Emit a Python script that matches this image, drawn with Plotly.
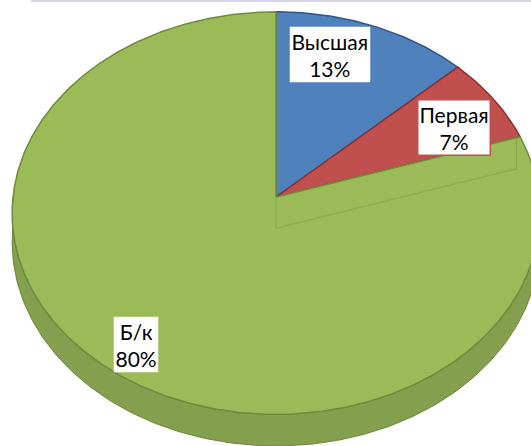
import numpy as np
import plotly.graph_objects as go

# ---- data ----
categories = ["Высшая", "Первая", "Б/к"]
values = [13, 7, 80]

# ---- styling / layout config ----
face_colors = ["#4F81BD", "#C0504D", "#9BBB59"]
edge_colors = ["#2F5584", "#8E2E2C", "#6F8B3B"]
side_color = "#849F4E"
label_pos = [(330, 54), (454, 127), (136, 344)]   # pixel centres of label boxes
label_border = ["rgba(0,0,0,0)", "#C0504D", "rgba(0,0,0,0)"]

W, H = 531, 446
cx, cy = 276, 197
rx, ry, k = 263, 200, 0.08
depth = 29


def proj(theta_deg, r=1.0, dz=0.0):
    t = np.radians(theta_deg)
    v = np.cos(t)
    u = np.sin(t)
    f = 1.0 / (1.0 + k * v)
    x = cx + rx * u * r * f
    y = cy - ry * v * r * f + dz * f
    return x, y


total = sum(values)
starts = np.cumsum([0] + values[:-1]) / total * 360.0
ends = np.cumsum(values) / total * 360.0

fig = go.Figure()

# side wall (front half, visible part of each slice)
for i in range(len(values)):
    a0, a1 = max(starts[i], 90.0), min(ends[i], 270.0)
    if a1 <= a0:
        continue
    th = np.linspace(a0, a1, 200)
    xt, yt = proj(th)
    xb, yb = proj(th[::-1], 1.0, depth)
    fig.add_trace(go.Scatter(
        x=np.concatenate([xt, xb, xt[:1]]), y=np.concatenate([yt, yb, yt[:1]]),
        mode="lines", fill="toself", fillcolor=side_color,
        line=dict(color="#6C8838", width=1), hoverinfo="skip", showlegend=False))

# top faces
for i in range(len(values)):
    th = np.linspace(starts[i], ends[i], max(int(values[i] * 6), 20))
    xs, ys = proj(th)
    x = np.concatenate([[cx], xs, [cx]])
    y = np.concatenate([[cy], ys, [cy]])
    fig.add_trace(go.Scatter(
        x=x, y=y, mode="lines", fill="toself", fillcolor=face_colors[i],
        line=dict(color=edge_colors[i], width=1.5), hoverinfo="skip",
        showlegend=False))

# faint inner cut wall of the large slice (seen through the top)
a = starts[2]
p0 = proj(a, 0.0)
p1 = proj(a, 0.0, depth + 3)
p2 = proj(a, 0.985, depth + 3)
p3 = proj(a, 0.985)
fig.add_trace(go.Scatter(
    x=[p0[0], p1[0], p2[0], p3[0]], y=[p0[1], p1[1], p2[1], p3[1]],
    mode="lines", line=dict(color="rgba(110,140,60,0.35)", width=1.2),
    hoverinfo="skip", showlegend=False))

# labels
for i, c in enumerate(categories):
    pct = round(values[i] / total * 100)
    fig.add_annotation(
        x=label_pos[i][0], y=label_pos[i][1], xref="x", yref="y",
        text=f"{c}<br>{pct}%", showarrow=False,
        font=dict(family="Lato, Liberation Sans, Arial", size=21, color="#000000"),
        bgcolor="#FFFFFF", bordercolor=label_border[i], borderwidth=1.5,
        borderpad=1, align="center")

# thin top line
fig.add_shape(type="line", xref="x", yref="y", x0=31, x1=W, y0=1, y1=1,
              line=dict(color="#D9D5E8", width=2))

fig.update_xaxes(range=[0, W], visible=False, fixedrange=True)
fig.update_yaxes(range=[H, 0], visible=False, fixedrange=True)
fig.update_layout(width=W, height=H, autosize=False,
                  margin=dict(l=0, r=0, t=0, b=0),
                  paper_bgcolor="#FFFFFF", plot_bgcolor="#FFFFFF")

fig.write_html("out.html", config={"displayModeBar": False},
               post_script="document.body.style.margin='0';"
                           "document.body.style.overflow='hidden';")
